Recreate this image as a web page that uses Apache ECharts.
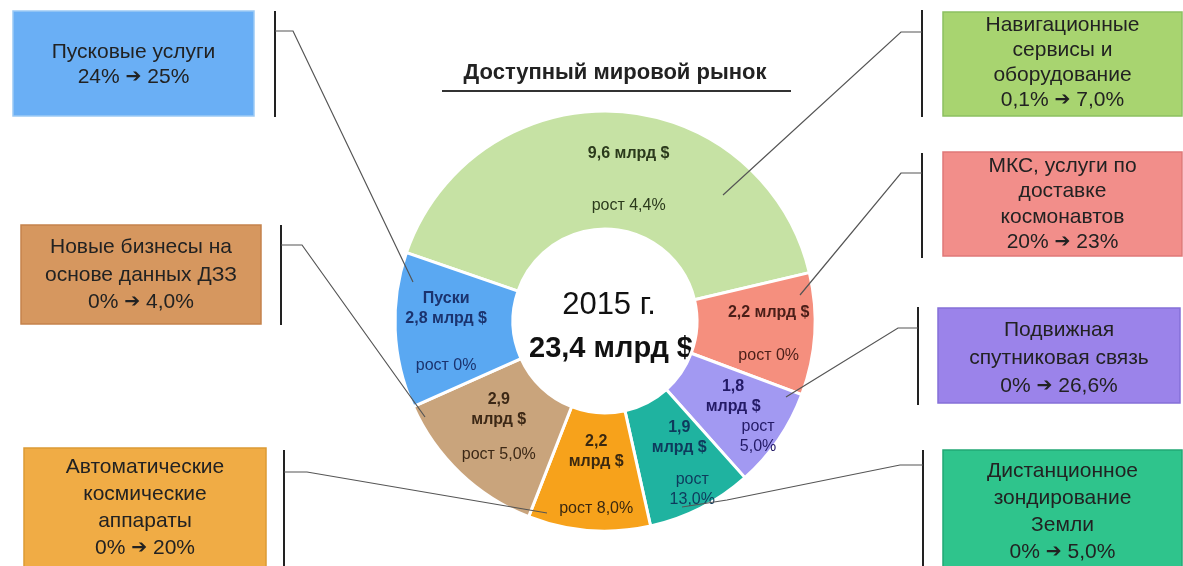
<!DOCTYPE html>
<html><head><meta charset="utf-8">
<script src="https://cdn.jsdelivr.net/npm/echarts@6/dist/echarts.min.js"></script>
<style>html,body{margin:0;padding:0;background:#fff}#c{width:1183px;height:566px}</style>
</head><body><div id="c"></div>
<script>
// ---- data ----
const titleText = 'Доступный мировой рынок';
const yearLabel = '2015 г.';
const unit = 'млрд $';
const categories = ['Навигационные сервисы и оборудование', 'МКС, услуги по доставке космонавтов', 'Подвижная спутниковая связь', 'Дистанционное зондирование Земли', 'Автоматические космические аппараты', 'Новые бизнесы на основе данных ДЗЗ', 'Пусковые услуги'];
const values = [9.6, 2.2, 1.8, 1.9, 2.2, 2.9, 2.8];
const growth = ['4,4%', '0%', '5,0%', '13,0%', '8,0%', '5,0%', '0%'];
const sliceTags = ['', '', '', '', '', '', 'Пуски'];
const boxLines = [['Навигационные', 'сервисы и', 'оборудование'], ['МКС, услуги по', 'доставке', 'космонавтов'], ['Подвижная', 'спутниковая связь'], ['Дистанционное', 'зондирование', 'Земли'], ['Автоматические', 'космические', 'аппараты'], ['Новые бизнесы на', 'основе данных ДЗЗ'], ['Пусковые услуги']];
const shareFrom = ['0,1%', '20%', '0%', '0%', '0%', '0%', '24%'];
const shareTo = ['7,0%', '23%', '26,6%', '5,0%', '20%', '4,0%', '25%'];

// ---- styling ----
const sliceColors = ['#c6e2a4', '#f58f7e', '#a299f2', '#1fb3a0', '#f7a21b', '#c9a47c', '#5aa8f2'];
const textColors = ['#2b3a1c', '#4a1e18', '#231a66', '#0e3a5c', '#3a2810', '#3c2816', '#1b336e'];
const boxColors = ['#a8d470', '#f28e8a', '#9b83ea', '#2fc48c', '#f0ac45', '#d6975f', '#6aaff5'];
const boxBorders = ['#8cc060', '#e07878', '#8570d8', '#22a874', '#dc9a35', '#c5834c', '#9ccaf5'];
const wrapValue = [0, 0, 1, 1, 1, 1, 0];
const wrapGrowth = [0, 0, 1, 1, 0, 0, 0];
const growthIndent = [0, 0, 50, 26, 0, 0, 0];
const gapH = [32, 23, 0, 12, 27, 15, 27];
const labelShift = [[16, 12], [10, 3], [1, 9], [4, 6], [3, 1], [0, -5], [-5, 4]];
// boxes: [x, y, w, h, lineHeight]
const boxGeom = [[943, 12, 239, 104, 25], [943, 152, 239, 104, 25.5], [938, 308, 242, 95, 28], [943, 450, 239, 130, 27], [24, 448, 242, 130, 27], [21, 225, 240, 99, 27.5], [13, 11, 241, 105, 25]];
const boxTextCY = [63, 204, 358, 512, 508, 275, 65];
const brackets = [[922, 10, 117], [922, 153, 258], [918, 307, 405], [923, 450, 566], [284, 450, 566], [281, 225, 325], [275, 11, 117]];
const leaders = [
  [[922, 32], [901, 32], [723, 195]],
  [[922, 173], [901, 173], [800, 295]],
  [[918, 328], [898, 328], [786, 397]],
  [[923, 465], [900, 465], [727, 500], [682, 507]],
  [[284, 472], [307, 472], [547, 513]],
  [[281, 245], [302, 245], [425, 417]],
  [[275, 31], [293, 31], [413, 282]]
];

const fmt = v => v.toFixed(1).replace('.', ',');
const total = values.reduce((a, b) => a + b, 0);
const FONT = '"Liberation Sans", Arial, sans-serif';

const pieData = values.map((v, i) => {
  const parts = [];
  if (sliceTags[i]) parts.push('{b|' + sliceTags[i] + '}');
  if (wrapValue[i]) { parts.push('{b|' + fmt(v) + '}'); parts.push('{b|' + unit + '}'); }
  else parts.push('{b|' + fmt(v) + ' ' + unit + '}');
  if (gapH[i] > 0) parts.push('{s| }');
  if (wrapGrowth[i]) { parts.push('{n|рост}'); parts.push('{n|' + growth[i] + '}'); }
  else parts.push('{n|рост ' + growth[i] + '}');
  return {
    name: categories[i], value: v,
    itemStyle: { color: sliceColors[i] },
    label: {
      formatter: parts.join('\n'),
      rich: {
        b: { fontFamily: FONT, fontSize: 16, fontWeight: 'bold', color: textColors[i], lineHeight: 20 },
        n: { fontFamily: FONT, fontSize: 16, color: textColors[i], lineHeight: 20, padding: [0, 0, 0, growthIndent[i]] },
        s: { fontSize: 2, lineHeight: gapH[i] }
      }
    }
  };
});

const graphics = [];
// title
graphics.push({ type: 'text', x: 615, y: 73, style: { text: titleText, fontFamily: FONT, fontSize: 22, fontWeight: 'bold', fill: '#222', align: 'center', verticalAlign: 'middle' } });
graphics.push({ type: 'line', shape: { x1: 442, y1: 91, x2: 791, y2: 91 }, style: { stroke: '#333', lineWidth: 2 } });
// center
graphics.push({ type: 'text', x: 609, y: 305, style: { text: yearLabel, fontFamily: FONT, fontSize: 31, fill: '#111', align: 'center', verticalAlign: 'middle' } });
graphics.push({ type: 'text', x: 611, y: 349, style: { text: fmt(total) + ' ' + unit, fontFamily: FONT, fontSize: 29, fontWeight: 'bold', fill: '#111', align: 'center', verticalAlign: 'middle' } });
// boxes
for (let i = 0; i < categories.length; i++) {
  const g = boxGeom[i];
  graphics.push({ type: 'rect', shape: { x: g[0], y: g[1], width: g[2], height: g[3] }, style: { fill: boxColors[i], stroke: boxBorders[i], lineWidth: 1.5 } });
  const lines = boxLines[i].map(s => '{t|' + s + '}');
  lines.push('{t|' + shareFrom[i] + ' }{a|➔}{t| ' + shareTo[i] + '}');
  graphics.push({ type: 'text', x: g[0] + g[2] / 2, y: boxTextCY[i], style: {
    text: lines.join('\n'), align: 'center', verticalAlign: 'middle',
    rich: {
      t: { fontFamily: FONT, fontSize: 21, fill: '#222', lineHeight: g[4] },
      a: { fontFamily: '"DejaVu Sans", sans-serif', fontSize: 19, fill: '#222', lineHeight: g[4] }
    }
  } });
  const b = brackets[i];
  graphics.push({ type: 'line', shape: { x1: b[0], y1: b[1], x2: b[0], y2: b[2] }, style: { stroke: '#222', lineWidth: 2 } });
  graphics.push({ type: 'polyline', shape: { points: leaders[i] }, style: { stroke: '#555', lineWidth: 1.2, fill: null }, z: 100 });
}

const chart = echarts.init(document.getElementById('c'), null, { renderer: 'canvas' });
chart.setOption({
  backgroundColor: '#fff',
  animation: false,
  series: [{
    type: 'pie',
    center: [605, 321],
    radius: [92, 210],
    startAngle: 161,
    clockwise: true,
    avoidLabelOverlap: false,
    silent: true,
    itemStyle: { borderColor: '#fff', borderWidth: 3 },
    label: { show: true, position: 'inside' },
    labelLine: { show: false },
    labelLayout: function (p) { const s = labelShift[p.dataIndex]; return { dx: s[0], dy: s[1] }; },
    data: pieData
  }],
  graphic: { elements: graphics }
});
</script>
</body></html>
